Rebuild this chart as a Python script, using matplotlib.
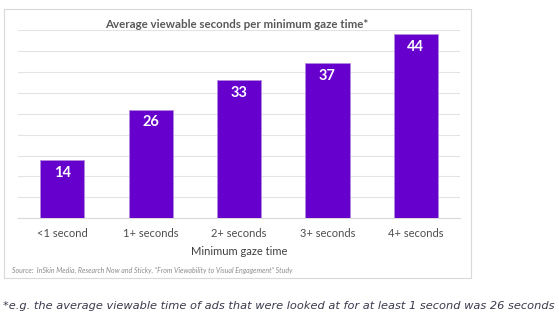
import numpy as np
import matplotlib.pyplot as plt
from matplotlib.patches import Rectangle

categories = ['<1 second', '1+ seconds', '2+ seconds', '3+ seconds', '4+ seconds']
avg_seconds = [14, 26, 33, 37, 44]

W, H = 559, 322
fig = plt.figure(figsize=(W / 100, H / 100), dpi=100)
fig.patch.set_facecolor('white')

# outer chart frame
fig.patches.append(Rectangle((4 / W, 1 - 278 / H), 467 / W, 269 / H,
                             transform=fig.transFigure, fill=False,
                             edgecolor='#d9d9d9', linewidth=0.8))

ax = fig.add_axes([18 / W, 1 - 218.3 / H, 442 / W, 188.3 / H])
x = np.arange(len(categories))
bars = ax.bar(x, avg_seconds, width=0.5, color='#6600cc', edgecolor='#b48be0',
              linewidth=0.6, zorder=3)
ax.set_xlim(-0.5, 4.5)
ax.set_ylim(0, 45)
ax.set_yticks(np.arange(0, 46, 5))
ax.yaxis.grid(True, color='#e3e3e3', linewidth=0.8, zorder=0)
ax.tick_params(axis='y', length=0, labelleft=False)
ax.tick_params(axis='x', length=0, pad=7, labelsize=8, labelcolor='#4d4d4d')
ax.set_xticks(x)
ax.set_xticklabels(categories, family='Lato')
for s in ['left', 'right', 'top']:
    ax.spines[s].set_visible(False)
ax.spines['bottom'].set_color('#d9d9d9')
ax.set_xlabel('Minimum gaze time', fontsize=8, color='#404040', family='Lato', labelpad=5)

for b, v in zip(bars, avg_seconds):
    ax.text(b.get_x() + b.get_width() / 2, v - 3.1, str(v), ha='center', va='center',
            color='white', fontsize=10.5, fontweight='bold', family='Lato', zorder=4)

fig.text(237 / W, 1 - 24 / H, 'Average viewable seconds per minimum gaze time*',
         ha='center', va='center', fontsize=8.3, fontweight='bold', color='#595959',
         family='Lato')
fig.text(12 / W, 1 - 270.5 / H,
         'Source:  InSkin Media, Research Now and Sticky, \u201cFrom Viewability to Visual Engagement\u201d Study',
         ha='left', va='center', fontsize=5.05, style='italic', color='#8c8c8c', family='Lato')
fig.text(3 / W, 1 - 306 / H,
         '*e.g. the average viewable time of ads that were looked at for at least 1 second was 26 seconds',
         ha='left', va='center', fontsize=8.2, style='italic', color='#3a3a4e', family='DejaVu Sans')

fig.savefig('out.png', dpi=100)
